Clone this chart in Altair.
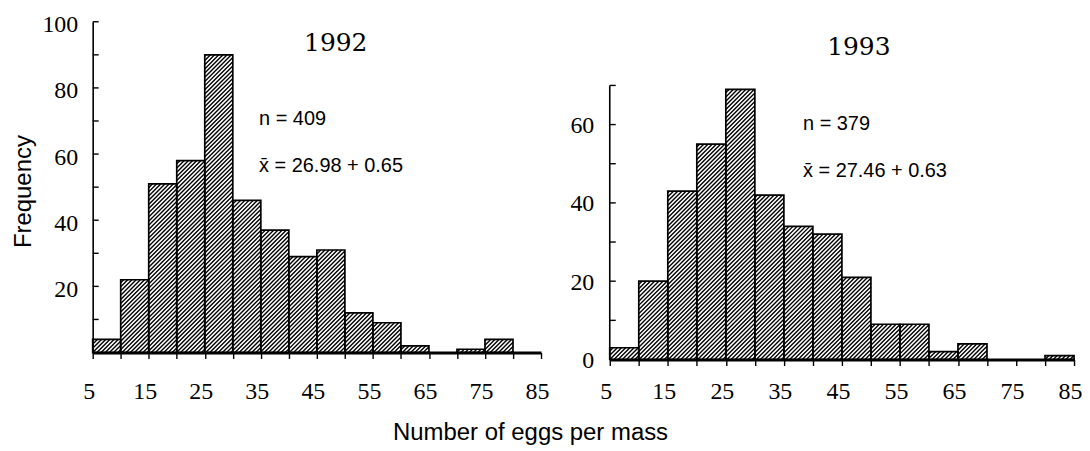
import altair as alt
import pandas as pd
import numpy as np

# ---------------- data ----------------
bin_starts = [5, 10, 15, 20, 25, 30, 35, 40, 45, 50, 55, 60, 65, 70, 75, 80]
bin_width = 5
freq_1992 = [4, 22, 51, 58, 90, 46, 37, 29, 31, 12, 9, 2, 0, 1, 4, 0]
freq_1993 = [3, 20, 43, 55, 69, 42, 34, 32, 21, 9, 9, 2, 4, 0, 0, 1]

x_ticks = [5, 10, 15, 20, 25, 30, 35, 40, 45, 50, 55, 60, 65, 70, 75, 80, 85]
y_ticks_1992 = [10, 20, 30, 40, 50, 60, 70, 80, 90, 100]
y_labels_1992 = [20, 40, 60, 80, 100]
y_ticks_1993 = [10, 20, 30, 40, 50, 60, 70]
y_labels_1993 = [0, 20, 40, 60]

years = ["1992", "1993"]
n_texts = ["n = 409", "n = 379"]
mean_texts = ["x\u0304 = 26.98 + 0.65", "x\u0304 = 27.46 + 0.63"]
x_title = "Number of eggs per mass"
y_title = "Frequency"

# ---------------- layout / style ----------------
X_MIN, X_MAX = 5, 85
W1, H1, YMAX1 = 450, 332, 100
W2, H2 = 466, 339
YMAX2 = H2 / 3.93          # axis itself stops at 70
HATCH_STEP = 4.2
SERIF = "Liberation Serif"
SANS = "Liberation Sans"


def hatch_segments(starts, freqs, W, H, ymax):
    sx = W / (X_MAX - X_MIN)
    sy = H / ymax
    rows = []
    for s, f in zip(starts, freqs):
        if f <= 0:
            continue
        a = (s - X_MIN) * sx
        b = (s + bin_width - X_MIN) * sx
        h = f * sy
        k = np.floor((a - h) / HATCH_STEP) * HATCH_STEP
        while k < b:
            u0 = max(a, k)
            u1 = min(b, k + h)
            if u1 - u0 > 0.3:
                rows.append({"hx": X_MIN + u0 / sx, "hy": (u0 - k) / sy,
                             "hx2": X_MIN + u1 / sx, "hy2": (u1 - k) / sy})
            k += HATCH_STEP
    return pd.DataFrame(rows)


def panel(freqs, W, H, ymax, yticks, ylabels, left, year, n_text, mean_text,
          year_pos, text_pos, axis_top):
    df = pd.DataFrame({"start": bin_starts,
                       "end": [s + bin_width for s in bin_starts],
                       "freq": freqs})
    df = df[df["freq"] > 0]
    xs = alt.Scale(domain=[X_MIN, X_MAX], nice=False, zero=False)
    ys = alt.Scale(domain=[0, ymax], nice=False, zero=True)

    xaxis = alt.Axis(
        values=x_ticks,
        labelExpr="datum.value % 10 == 5 ? datum.label : ''",
        grid=False, ticks=True, tickSize=6, tickWidth=1.4, tickColor="black",
        domain=True, domainColor="black", domainWidth=3,
        labelFont=SERIF, labelFontSize=24, labelColor="black",
        labelPadding=21 if left else 14, labelBaseline="top", labelOffset=-4,
        labelFlush=False,
        titleFont=SANS, titleFontSize=24, titleFontWeight="normal", titleColor="black",
        titleX=439, titleY=80, titleBaseline="middle", titleAlign="center",
    )
    yaxis = alt.Axis(
        values=ylabels, grid=False, ticks=False, tickSize=0,
        domain=left, domainColor="black", domainWidth=1.6,
        labelFont=SERIF, labelFontSize=24, labelColor="black",
        labelPadding=15 if left else 16, labelOffset=3 if left else 1,
        labelBaseline="middle",
        titleFont=SANS, titleFontSize=24, titleFontWeight="normal", titleColor="black",
        titleX=-69, titleY=170, titleBaseline="middle", titleAlign="center", titleAngle=-90,
    )
    xt = x_title if left else None
    yt = y_title if left else None

    bars = alt.Chart(df).mark_rect(
        fill="white", fillOpacity=0, stroke="black", strokeWidth=1.7
    ).encode(
        x=alt.X("start:Q", scale=xs, axis=xaxis, title=xt),
        x2="end:Q",
        y=alt.Y("freq:Q", scale=ys, axis=yaxis, title=yt),
        y2=alt.datum(0),
    )

    hatch = alt.Chart(hatch_segments(bin_starts, freqs, W, H, ymax)).mark_rule(
        color="black", strokeWidth=1.4
    ).encode(
        x=alt.X("hx:Q", scale=xs, axis=xaxis, title=xt),
        x2="hx2:Q",
        y=alt.Y("hy:Q", scale=ys, axis=yaxis, title=yt),
        y2="hy2:Q",
    )

    tick_df = pd.DataFrame({"v": yticks})
    yticks_layer = alt.Chart(tick_df).mark_rule(color="black", strokeWidth=1.4).encode(
        y=alt.Y("v:Q", scale=ys, axis=yaxis, title=yt),
        x=alt.value(0),
        x2=alt.value(6),
    )

    layers = [bars, hatch, yticks_layer]

    if not left:
        dom_df = pd.DataFrame({"y0": [min(ylabels)], "y1": [axis_top]})
        layers.append(
            alt.Chart(dom_df).mark_rule(color="black", strokeWidth=1.6).encode(
                y=alt.Y("y0:Q", scale=ys, axis=yaxis, title=yt),
                y2="y1:Q",
                x=alt.value(0),
            )
        )

    ann = pd.DataFrame({"year": [year], "n": [n_text], "m": [mean_text]})
    layers.append(
        alt.Chart(ann).mark_text(font="DejaVu Serif", fontSize=25, color="black",
                                 align="center", baseline="middle").encode(
            text="year:N", x=alt.value(year_pos[0]), y=alt.value(year_pos[1]))
    )
    layers.append(
        alt.Chart(ann).mark_text(font=SANS, fontSize=20, color="black",
                                 align="left", baseline="middle").encode(
            text="n:N", x=alt.value(text_pos[0]), y=alt.value(text_pos[1]))
    )
    layers.append(
        alt.Chart(ann).mark_text(font=SANS, fontSize=20, color="black",
                                 align="left", baseline="middle").encode(
            text="m:N", x=alt.value(text_pos[0]), y=alt.value(text_pos[2]))
    )

    return alt.layer(*layers).properties(width=W, height=H)


left_panel = panel(freq_1992, W1, H1, YMAX1, y_ticks_1992, y_labels_1992, True,
                   years[0], n_texts[0], mean_texts[0],
                   (244, 21), (167, 98, 145), 100)
right_panel = panel(freq_1993, W2, H2, YMAX2, y_ticks_1993, y_labels_1993, False,
                    years[1], n_texts[1], mean_texts[1],
                    (250, 25), (194, 103, 150), 70)

chart = alt.hconcat(left_panel, right_panel, spacing=69, bounds="flush").properties(
    padding={"left": 4, "top": 4, "right": 0, "bottom": 0},
    background="white",
).configure_view(strokeWidth=0)

chart.save("out.html", embed_options={"renderer": "svg", "actions": False})
